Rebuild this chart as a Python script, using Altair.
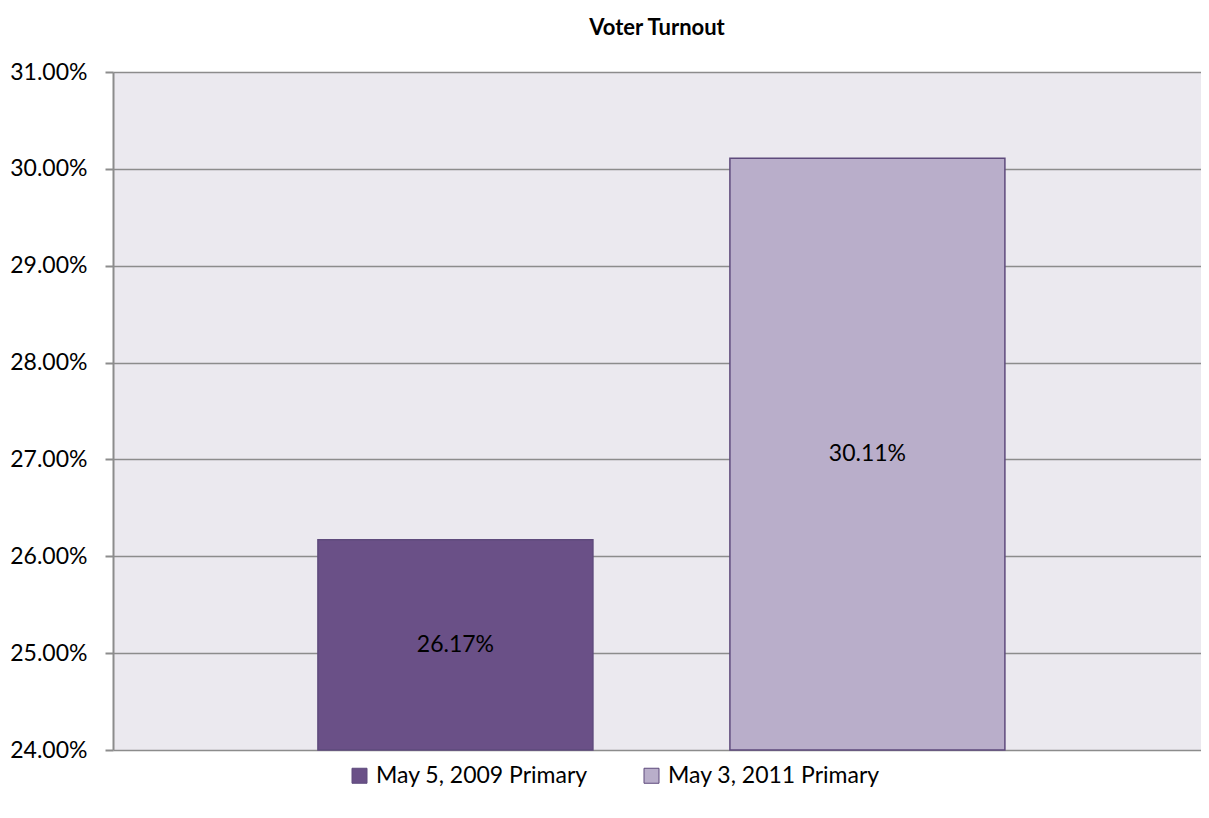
import altair as alt
import pandas as pd

series = ["May 5, 2009 Primary", "May 3, 2011 Primary"]
turnout = [0.2617, 0.3011]
labels = ["26.17%", "30.11%"]
y_ticks = [0.24, 0.25, 0.26, 0.27, 0.28, 0.29, 0.30, 0.31]
colors = ["#6A5087", "#B9AECA"]

df = pd.DataFrame({"series": series, "turnout": turnout, "label": labels})

FONT = "Lato"
FS = 23

base = alt.Chart(df).transform_calculate(
    mid="(datum.turnout + 0.24) / 2"
)

xscale = alt.Scale(paddingInner=0.3325, paddingOuter=0.4867, align=0.511)

bars = base.mark_bar(stroke="#5E4A7C", strokeWidth=1.5).encode(
    x=alt.X("series:N", axis=None, sort=series, scale=xscale),
    y=alt.Y("turnout:Q",
            scale=alt.Scale(domain=[0.24, 0.31], zero=False, nice=False),
            axis=alt.Axis(values=y_ticks, format=".2%", title=None,
                          labelFontSize=FS, labelFont=FONT, labelColor="#000000",
                          labelPadding=18, tickSize=8, tickColor="#8C8C8C",
                          tickWidth=2, domainColor="#8C8C8C", domainWidth=2,
                          gridColor="#8C8C8C", gridWidth=1.5)),
    y2=alt.datum(0.24),
    color=alt.Color("series:N", sort=series,
                    scale=alt.Scale(domain=series, range=colors),
                    legend=alt.Legend(title=None, orient="none", direction="horizontal",
                                      legendX=235, legendY=692,
                                      symbolType="square", symbolSize=225,
                                      symbolStrokeColor="#5E4A7C", symbolStrokeWidth=1,
                                      labelFontSize=FS, labelFont=FONT, labelColor="#000000",
                                      labelLimit=0, labelOffset=5,
                                      columnPadding=52)),
)

text = base.mark_text(fontSize=FS, font=FONT, color="#000000").encode(
    x=alt.X("series:N", sort=series),
    y=alt.Y("mid:Q"),
    text="label:N",
)

chart = alt.layer(bars, text).properties(
    width=1088,
    height=678,
    title=alt.TitleParams("Voter Turnout", fontSize=22, font=FONT, fontWeight="bold",
                          anchor="middle", offset=21, color="#000000"),
    autosize=alt.AutoSizeParams(type="none"),
    padding={"left": 105, "top": 64, "right": 0, "bottom": 50},
).configure_view(fill="#EBE9EF", stroke=None)

chart.save("out.html", embed_options={"renderer": "svg", "actions": False})
